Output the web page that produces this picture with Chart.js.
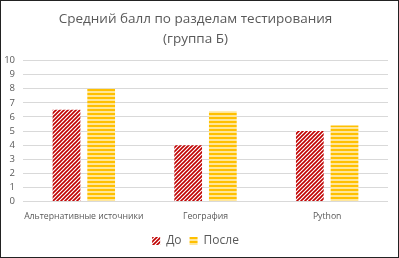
<!DOCTYPE html>
<html>
<head>
<meta charset="utf-8">
<script src="https://cdn.jsdelivr.net/npm/chart.js@4"></script>
<style>
  html, body { margin: 0; padding: 0; background: #fff; }
  #wrap { width: 399px; height: 258px; box-sizing: border-box; border: 1px solid #222; position: relative; }
  canvas { display: block; }
</style>
</head>
<body>
<div id="wrap"><canvas id="chart" width="397" height="256"></canvas></div>
<script>
// chart data
const categories = ['Альтернативные источники', 'География', 'Python'];
const seriesNames = ['До', 'После'];
const beforeValues = [6.5, 4.0, 5.0];
const afterValues = [8.0, 6.4, 5.4];
const yTicks = [0, 1, 2, 3, 4, 5, 6, 7, 8, 9, 10];

// diagonal red stripes
function diagPattern(ctx) {
    const c = document.createElement('canvas');
    c.width = 4; c.height = 4;
    const p = c.getContext('2d');
    p.fillStyle = '#fff';
    p.fillRect(0, 0, 4, 4);
    p.strokeStyle = '#C00000';
    p.lineWidth = 1.6;
    p.beginPath();
    p.moveTo(-1, 5); p.lineTo(5, -1);
    p.moveTo(-1, 1); p.lineTo(1, -1);
    p.moveTo(3, 5); p.lineTo(5, 3);
    p.stroke();
    return ctx.createPattern(c, 'repeat');
}

// horizontal yellow stripes
function horizPattern(ctx) {
    const c = document.createElement('canvas');
    c.width = 4; c.height = 4;
    const p = c.getContext('2d');
    p.fillStyle = '#FFE699';
    p.fillRect(0, 0, 4, 4);
    p.fillStyle = '#FFC000';
    p.fillRect(0, 0, 4, 2);
    return ctx.createPattern(c, 'repeat');
}

const ctx = document.getElementById('chart').getContext('2d');
const redFill = diagPattern(ctx);
const yellowFill = horizPattern(ctx);

new Chart(ctx, {
    type: 'bar',
    data: {
        labels: categories,
        datasets: [
            { label: seriesNames[0], data: beforeValues, backgroundColor: redFill, borderWidth: 0 },
            { label: seriesNames[1], data: afterValues, backgroundColor: yellowFill, borderWidth: 0 }
        ]
    },
    options: {
        responsive: false,
        animation: false,
        layout: { padding: { left: 2, right: 10, top: 6, bottom: 0 } },
        datasets: { bar: { categoryPercentage: 0.57, barPercentage: 0.8 } },
        plugins: {
            title: {
                display: true,
                text: ['Средний балл по разделам тестирования', '(группа Б)'],
                color: '#595959',
                font: { family: 'Open Sans', size: 13.5, weight: 'normal', lineHeight: 1.5 },
                padding: { top: 2, bottom: 11 }
            },
            legend: {
                position: 'bottom',
                labels: {
                    color: '#595959',
                    font: { family: 'Open Sans', size: 12 },
                    boxWidth: 8,
                    boxHeight: 8,
                    padding: 8
                }
            },
            tooltip: { enabled: false }
        },
        scales: {
            x: {
                afterFit: axis => { axis.height += 3; },
                grid: { display: false },
                border: { display: false },
                ticks: { color: '#595959', font: { family: 'Open Sans', size: 8.7 }, maxRotation: 0, autoSkip: false, padding: 2 }
            },
            y: {
                min: 0,
                max: 10,
                afterBuildTicks: axis => { axis.ticks = yTicks.map(v => ({ value: v })); },
                afterFit: axis => { axis.width = 20; },
                grid: { color: '#D9D9D9', lineWidth: 1, drawTicks: false },
                border: { display: false },
                ticks: { color: '#595959', font: { family: 'Open Sans', size: 9.5 }, autoSkip: false, padding: 8 }
            }
        }
    }
});
</script>
</body>
</html>
